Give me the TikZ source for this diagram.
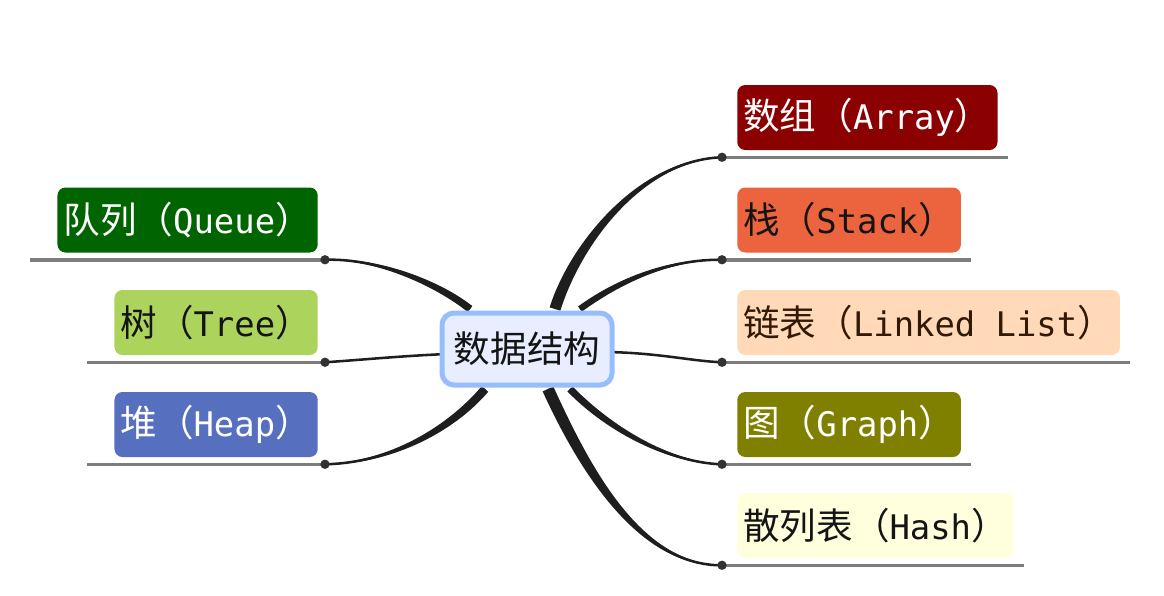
\documentclass[tikz,border=0pt]{standalone}
\usepackage{fontspec}
\setmainfont{DejaVu Sans Mono}
\newfontfamily\cjk{Noto Sans CJK SC}[Scale=1.08]
\usetikzlibrary{calc,backgrounds}

\definecolor{arraycol}{RGB}{139,0,0}
\definecolor{stackcol}{RGB}{236,100,62}
\definecolor{listcol}{RGB}{255,217,184}
\definecolor{graphcol}{RGB}{128,128,0}
\definecolor{hashcol}{RGB}{255,255,222}
\definecolor{queuecol}{RGB}{0,100,0}
\definecolor{treecol}{RGB}{172,212,92}
\definecolor{heapcol}{RGB}{86,111,190}
\definecolor{rootfill}{RGB}{232,238,255}
\definecolor{rootedge}{RGB}{150,190,255}
\definecolor{linegray}{RGB}{125,125,125}
\definecolor{knotgray}{RGB}{50,50,50}
\definecolor{branchcol}{RGB}{30,30,30}
\definecolor{inkdark}{RGB}{20,20,20}
\definecolor{inkbrown}{RGB}{50,25,5}

% label: chinese name + latin name in full-width brackets
\newcommand\topic[2]{{\cjk #1（}#2{\cjk ）}}

% tapered branch: start, control 1, control 2, end, half width at start
\newcommand\branch[5]{%
  \fill[branchcol] ($(#1)!#5!90:(#2)$) .. controls ($(#2)!#5!-90:(#1)$) and ($(#3)!#5*0.45!90:(#4)$) .. (#4)
    .. controls ($(#3)!#5*0.45!-90:(#4)$) and ($(#2)!#5!90:(#1)$) .. ($(#1)!#5!-90:(#2)$) -- cycle;
  \draw[branchcol, line width=1.9pt] (#1) .. controls (#2) and (#3) .. (#4);
}

\begin{document}
\begin{tikzpicture}[x=0.75pt, y=-0.75pt,
  topic/.style={rounded corners=6pt, minimum height=48.75pt, inner xsep=4.5pt,
    inner ysep=0pt, font=\fontsize{25.4pt}{30pt}\selectfont},
  uline/.style={draw=linegray, line width=2.6pt},
  knot/.style={circle, fill=knotgray, inner sep=0pt, minimum size=7pt}]

\useasboundingbox (0,0) rectangle (1164,596);

% Centre
\node[draw=rootedge, line width=3.75pt, fill=rootfill, rounded corners=9pt,
  minimum width=127.5pt, minimum height=54pt, text=inkdark,
  font=\fontsize{25.4pt}{30pt}\selectfont\cjk] (root) at (527,349) {数据结构};

% Left side
\node[topic, anchor=east, fill=queuecol, text=white] (queue) at (318,220) {\topic{队列}{Queue}};
\node[topic, anchor=east, fill=treecol, text=inkdark] (tree) at (318,322.5) {\topic{树}{Tree}};
\node[topic, anchor=east, fill=heapcol, text=white] (heap) at (318,424.5) {\topic{堆}{Heap}};

% Right side
\node[topic, anchor=west, fill=arraycol, text=white] (array) at (737,117.5) {\topic{数组}{Array}};
\node[topic, anchor=west, fill=stackcol, text=inkdark] (stack) at (737,220) {\topic{栈}{Stack}};
\node[topic, anchor=west, fill=listcol, text=inkbrown] (list) at (737,322.5) {\topic{链表}{Linked List}};
\node[topic, anchor=west, fill=graphcol, text=white] (graph) at (737,424.5) {\topic{图}{Graph}};
\node[topic, anchor=west, fill=hashcol, text=inkdark] (hash) at (737,525.5) {\topic{散列表}{Hash}};

% Underlines with their knots
\foreach \n in {queue,tree,heap} {
  \coordinate (\n-k) at ($(\n.south east)+(7,7)$);
  \draw[uline] ($(\n.south west)+(-27,7)$) -- (\n-k);
}
\foreach \n in {array,stack,list,graph,hash} {
  \coordinate (\n-k) at ($(\n.south west)+(-15,7)$);
  \draw[uline] (\n-k) -- ($(\n.south east)+(10,7)$);
}

% Where the branches leave the centre
\coordinate (queue-s) at ($(root)+(-57,-40)$);
\coordinate (tree-s)  at ($(root)+(-80,5)$);
\coordinate (heap-s)  at ($(root)+(-42,40)$);
\coordinate (array-s) at ($(root)+(28,-40)$);
\coordinate (stack-s) at ($(root)+(53,-40)$);
\coordinate (list-s)  at ($(root)+(80,3)$);
\coordinate (graph-s) at ($(root)+(43,40)$);
\coordinate (hash-s)  at ($(root)+(21,40)$);

% Branches, behind the centre
\begin{scope}[on background layer]
\branch{queue-s}{440,285}{380,258}{queue-k}{2.8pt}
\branch{tree-s}{400,356}{360,360}{tree-k}{0.4pt}
\branch{heap-s}{450,430}{390,463}{heap-k}{3.2pt}
\branch{array-s}{575,245}{640,160}{array-k}{4.2pt}
\branch{stack-s}{620,280}{670,259}{stack-k}{2.4pt}
\branch{list-s}{660,353}{690,361}{list-k}{0.4pt}
\branch{graph-s}{610,430}{670,463}{graph-k}{2.7pt}
\branch{hash-s}{585,470}{640,566}{hash-k}{4.4pt}
\end{scope}

% Knots
\foreach \n in {queue,tree,heap,array,stack,list,graph,hash}
  \node[knot] (\n-dot) at (\n-k) {};

\end{tikzpicture}
\end{document}
